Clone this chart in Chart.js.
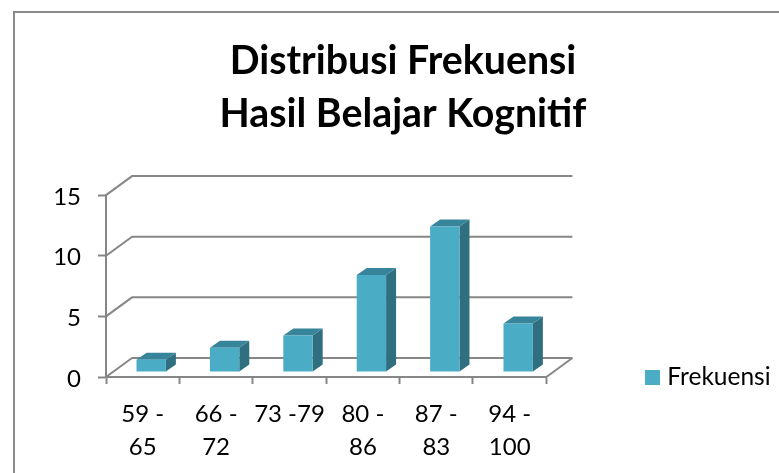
<!DOCTYPE html>
<html>
<head>
<meta charset="utf-8">
<script src="https://cdn.jsdelivr.net/npm/chart.js@4/dist/chart.umd.js"></script>
<style>
html,body{margin:0;padding:0;background:#fff}
#frame{position:absolute;left:13px;top:11px;right:0;bottom:0;border-top:2px solid #8a8a8a;border-left:2px solid #8a8a8a}
canvas{position:absolute;left:0;top:0;display:block}
</style>
</head>
<body>
<div id="frame"></div>
<canvas id="c" width="779" height="473"></canvas>
<script>
const titleLines = ["Distribusi Frekuensi", "Hasil Belajar Kognitif"];
const categories = [["59 -","65"],["66 -","72"],["73 -79"],["80 -","86"],["87 -","83"],["94 -","100"]];
const seriesName = "Frekuensi";
const frekuensi = [1, 2, 3, 8, 12, 4];
const yMax = 15;
const yStep = 5;

const FONT = "Lato, 'Open Sans', sans-serif";
const AXIS = "#868686";
const FRONT = "#4bacc6", TOP = "#38849a", SIDE = "#306f80";
const WALL = {dx: 26, dy: 19};
const BAR_OFF = {dx: 8.5, dy: 5};
const DEPTH = {dx: 10, dy: 7};

const swatch = document.createElement("canvas");
swatch.width = 15; swatch.height = 15;
const sc = swatch.getContext("2d"); sc.fillStyle = FRONT; sc.fillRect(0, 0, 15, 15);

const pseudo3d = {
  id: "pseudo3d",
  afterLayout(chart) {
    const t = chart.titleBlock; t.left = 27; t.right = 779;
    const l = chart.legend;
    l.left = 649 - l.options.labels.padding; l.right = 779; l.top = 357; l.bottom = 395;
    chart.scales.y.getLabelItems(chart.chartArea).forEach(i => { i.textOffset += 2; });
  },
  beforeDatasetsDraw(chart) {
    const {ctx, chartArea: a, scales: {y}} = chart;
    ctx.save();
    ctx.strokeStyle = AXIS; ctx.lineWidth = 2; ctx.lineJoin = "round";
    y.ticks.forEach(t => {
      const py = y.getPixelForValue(t.value);
      ctx.beginPath();
      ctx.moveTo(a.left, py);
      ctx.lineTo(a.left + WALL.dx, py - WALL.dy);
      ctx.lineTo(a.right + WALL.dx, py - WALL.dy);
      ctx.stroke();
    });
    const p0 = y.getPixelForValue(0);
    ctx.beginPath();
    ctx.moveTo(a.right, p0);
    ctx.lineTo(a.right + WALL.dx, p0 - WALL.dy);
    ctx.stroke();
    ctx.restore();
  },
  beforeDatasetDraw(chart, args) {
    const {ctx} = chart;
    ctx.save();
    ctx.translate(BAR_OFF.dx, -BAR_OFF.dy);
    chart.getDatasetMeta(args.index).data.forEach(b => {
      const l = b.x - b.width / 2, r = b.x + b.width / 2;
      ctx.fillStyle = SIDE;
      ctx.beginPath();
      ctx.moveTo(r, b.y); ctx.lineTo(r + DEPTH.dx, b.y - DEPTH.dy);
      ctx.lineTo(r + DEPTH.dx, b.base - DEPTH.dy); ctx.lineTo(r, b.base);
      ctx.closePath(); ctx.fill();
      ctx.fillStyle = TOP;
      ctx.beginPath();
      ctx.moveTo(l, b.y); ctx.lineTo(l + DEPTH.dx, b.y - DEPTH.dy);
      ctx.lineTo(r + DEPTH.dx, b.y - DEPTH.dy); ctx.lineTo(r, b.y);
      ctx.closePath(); ctx.fill();
    });
  },
  afterDatasetDraw(chart) { chart.ctx.restore(); }
};

new Chart(document.getElementById("c"), {
  type: "bar",
  data: {
    labels: categories,
    datasets: [{label: seriesName, data: frekuensi, backgroundColor: FRONT, borderWidth: 0,
      barPercentage: 0.4, categoryPercentage: 1}]
  },
  plugins: [pseudo3d],
  options: {
    responsive: false,
    animation: false,
    layout: {padding: {left: 0, right: 93, top: 0, bottom: 0}},
    plugins: {
      tooltip: {enabled: false},
      title: {display: true, text: titleLines, color: "#000",
        font: {family: FONT, size: 39.3, weight: "bold", lineHeight: 1.35},
        padding: {top: 35, bottom: 54}},
      legend: {display: true, position: "right", align: "start",
        labels: {usePointStyle: true, pointStyle: swatch, pointStyleWidth: 6, boxHeight: 15, padding: 8, color: "#000",
          font: {family: FONT, size: 24.5}}}
    },
    scales: {
      x: {
        offset: true,
        afterFit(s) { s.height = 96; },
        border: {display: true, color: AXIS, width: 2},
        grid: {display: true, offset: true, drawOnChartArea: false, drawTicks: true, tickLength: 7, tickWidth: 2, color: AXIS},
        ticks: {color: "#000", font: {family: FONT, size: 24, lineHeight: 1.4}, padding: 13, maxRotation: 0, autoSkip: false}
      },
      y: {
        min: 0, max: yMax,
        afterFit(s) { s.width = 106; },
        border: {display: true, color: AXIS, width: 2},
        grid: {display: true, drawOnChartArea: false, drawTicks: true, tickLength: 8, tickWidth: 2, color: AXIS},
        ticks: {stepSize: yStep, color: "#000", font: {family: FONT, size: 24}, padding: 17}
      }
    }
  }
});
</script>
</body>
</html>
